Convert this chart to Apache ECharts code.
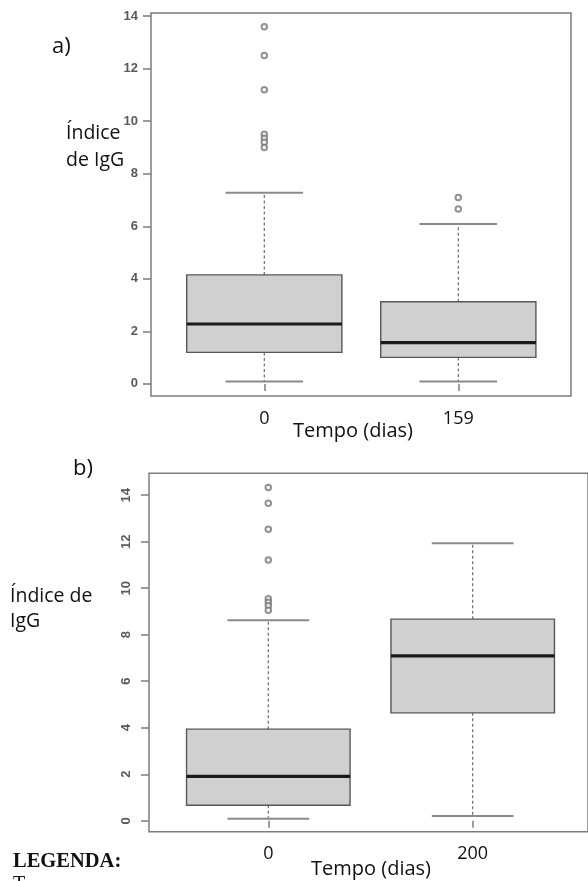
<!DOCTYPE html>
<html>
<head>
<meta charset="utf-8">
<script src="https://cdn.jsdelivr.net/npm/echarts@6/dist/echarts.min.js"></script>
<style>
html,body{margin:0;padding:0;background:#fff;}
#chart{width:588px;height:881px;}
</style>
</head>
<body>
<div id="chart"></div>
<script>
// ---- data ----
const categoriesA = ['0', '159'];
// [min, Q1, median, Q3, max]
const statsA = [
  [0.09, 1.20, 2.28, 4.15, 7.28],
  [0.09, 1.01, 1.57, 3.13, 6.09]
];
const outliersA0 = [13.6, 12.5, 11.2, 9.5, 9.35, 9.2, 9.0];
const outliersA1 = [7.1, 6.66];

const categoriesB = ['0', '200'];
const statsB = [
  [0.09, 0.67, 1.91, 3.94, 8.62],
  [0.20, 4.64, 7.09, 8.67, 11.93]
];
const outliersB0 = [14.33, 13.65, 12.53, 11.21, 9.55, 9.4, 9.25, 9.05];
const outliersB1 = [];

const yTicks = [0, 2, 4, 6, 8, 10, 12, 14];

// ---- rendering ----
const chart = echarts.init(document.getElementById('chart'), null, {renderer: 'canvas'});

function renderBox(params, api) {
  const i = api.value(0);
  const mn = api.coord([i, api.value(1)]);
  const q1 = api.coord([i, api.value(2)]);
  const md = api.coord([i, api.value(3)]);
  const q3 = api.coord([i, api.value(4)]);
  const mx = api.coord([i, api.value(5)]);
  const cw = api.size([1, 0])[0];
  const bw = cw * 0.8;
  const cap = bw * 0.5;
  const x = md[0];
  const dashStyle = {stroke: '#6a6a6a', lineWidth: 1.2, lineDash: [3, 2.5]};
  const capStyle = {stroke: '#8a8a8a', lineWidth: 2};
  return {
    type: 'group',
    children: [
      {type: 'line', shape: {x1: x, y1: q3[1], x2: x, y2: mx[1]}, style: dashStyle},
      {type: 'line', shape: {x1: x, y1: q1[1], x2: x, y2: mn[1]}, style: dashStyle},
      {type: 'line', shape: {x1: x - cap / 2, y1: mx[1], x2: x + cap / 2, y2: mx[1]}, style: capStyle},
      {type: 'line', shape: {x1: x - cap / 2, y1: mn[1], x2: x + cap / 2, y2: mn[1]}, style: capStyle},
      {type: 'rect', shape: {x: x - bw / 2, y: q3[1], width: bw, height: q1[1] - q3[1]},
        style: {fill: '#cfd0cf', stroke: '#575757', lineWidth: 1.4}},
      {type: 'line', shape: {x1: x - bw / 2, y1: md[1], x2: x + bw / 2, y2: md[1]},
        style: {stroke: '#1a1a1a', lineWidth: 3.2}}
    ]
  };
}

function boxData(stats) {
  return stats.map((s, i) => [i].concat(s));
}
function outData(vals, idx) {
  return vals.map(v => [idx, v]);
}

const txtFont = '"Open Sans", "Noto Sans", sans-serif';
const tickLabelStyle = {color: '#5a5a5a', fontSize: 13, fontWeight: 'bold', fontFamily: '"Liberation Sans", Arial, sans-serif'};

const option = {
  backgroundColor: '#ffffff',
  animation: false,
  grid: [
    // frames
    {left: 151, right: 17, top: 13, height: 383, show: true, borderColor: '#7c7c7c', borderWidth: 1.5, backgroundColor: 'transparent'},
    {left: 149, right: -3, top: 473.3, height: 358.4, show: true, borderColor: '#7c7c7c', borderWidth: 1.5, backgroundColor: 'transparent'},
    // data grids
    {left: 167.3, right: 32.7, top: 13, height: 383},
    {left: 166.1, right: 13.1, top: 473.3, height: 358.4}
  ],
  xAxis: [
    {type: 'value', gridIndex: 0, show: false, min: 0, max: 1},
    {type: 'value', gridIndex: 1, show: false, min: 0, max: 1},
    {type: 'category', gridIndex: 2, data: categoriesA, boundaryGap: true,
      axisLine: {show: false},
      axisTick: {show: true, alignWithLabel: true, length: 7, lineStyle: {color: '#7c7c7c', width: 1.5}},
      axisLabel: {color: '#111', fontSize: 18, fontFamily: txtFont, margin: 14},
      splitLine: {show: false}},
    {type: 'category', gridIndex: 3, data: categoriesB, boundaryGap: true,
      axisLine: {show: false},
      axisTick: {show: true, alignWithLabel: true, length: 7, lineStyle: {color: '#7c7c7c', width: 1.5}},
      axisLabel: {color: '#111', fontSize: 18, fontFamily: txtFont, margin: 13},
      splitLine: {show: false}}
  ],
  yAxis: [
    {type: 'value', gridIndex: 0, min: -0.46, max: 14.12,
      axisLine: {show: false},
      axisTick: {show: true, length: 8, customValues: yTicks, lineStyle: {color: '#7c7c7c', width: 1.5}},
      axisLabel: Object.assign({margin: 13, customValues: yTicks}, tickLabelStyle),
      splitLine: {show: false}},
    {type: 'value', gridIndex: 1, min: -0.47, max: 14.94,
      axisLine: {show: false},
      axisTick: {show: true, length: 8, customValues: yTicks, lineStyle: {color: '#7c7c7c', width: 1.5}},
      axisLabel: Object.assign({margin: 16, rotate: 90, customValues: yTicks}, tickLabelStyle),
      splitLine: {show: false}},
    {type: 'value', gridIndex: 2, min: -0.46, max: 14.12, show: false},
    {type: 'value', gridIndex: 3, min: -0.47, max: 14.94, show: false}
  ],
  series: [
    {type: 'custom', xAxisIndex: 2, yAxisIndex: 2, renderItem: renderBox,
      encode: {x: 0, y: [1, 2, 3, 4, 5]}, data: boxData(statsA)},
    {type: 'custom', xAxisIndex: 3, yAxisIndex: 3, renderItem: renderBox,
      encode: {x: 0, y: [1, 2, 3, 4, 5]}, data: boxData(statsB)},
    {type: 'scatter', xAxisIndex: 2, yAxisIndex: 2, symbol: 'emptyCircle', symbolSize: 5.5,
      itemStyle: {color: '#777', borderColor: '#777', borderWidth: 1.3},
      data: outData(outliersA0, 0).concat(outData(outliersA1, 1))},
    {type: 'scatter', xAxisIndex: 3, yAxisIndex: 3, symbol: 'emptyCircle', symbolSize: 5.5,
      itemStyle: {color: '#777', borderColor: '#777', borderWidth: 1.3},
      data: outData(outliersB0, 0).concat(outData(outliersB1, 1))}
  ],
  graphic: [
    {type: 'text', left: 52, top: 36, style: {text: 'a)', fontSize: 22, fontFamily: txtFont, fill: '#111'}},
    {type: 'text', x: 66, y: 133, style: {text: 'Índice', fontSize: 19.5, fontFamily: txtFont, fill: '#111', verticalAlign: 'middle'}},
    {type: 'text', x: 66, y: 160, style: {text: 'de IgG', fontSize: 19.5, fontFamily: txtFont, fill: '#111', verticalAlign: 'middle'}},
    {type: 'text', x: 353, y: 431, style: {text: 'Tempo (dias)', fontSize: 20, fontFamily: txtFont, fill: '#111', align: 'center', verticalAlign: 'middle'}},
    {type: 'text', x: 73, y: 469, style: {text: 'b)', fontSize: 22, fontFamily: txtFont, fill: '#111', verticalAlign: 'middle'}},
    {type: 'text', x: 10, y: 596, style: {text: 'Índice de', fontSize: 19.5, fontFamily: txtFont, fill: '#111', verticalAlign: 'middle'}},
    {type: 'text', x: 10, y: 621, style: {text: 'IgG', fontSize: 19.5, fontFamily: txtFont, fill: '#111', verticalAlign: 'middle'}},
    {type: 'text', x: 371, y: 869, style: {text: 'Tempo (dias)', fontSize: 20, fontFamily: txtFont, fill: '#111', align: 'center', verticalAlign: 'middle'}},
    {type: 'text', x: 13, y: 862, style: {text: 'LEGENDA:', fontSize: 20.5, fontWeight: 'bold', fontFamily: '"Liberation Serif", "Times New Roman", serif', fill: '#111', verticalAlign: 'middle'}},
    {type: 'text', x: 13, y: 885, style: {text: 'T', fontSize: 20, fontFamily: '"Liberation Serif", "Times New Roman", serif', fill: '#111', verticalAlign: 'middle'}}
  ]
};
chart.setOption(option);
</script>
</body>
</html>
